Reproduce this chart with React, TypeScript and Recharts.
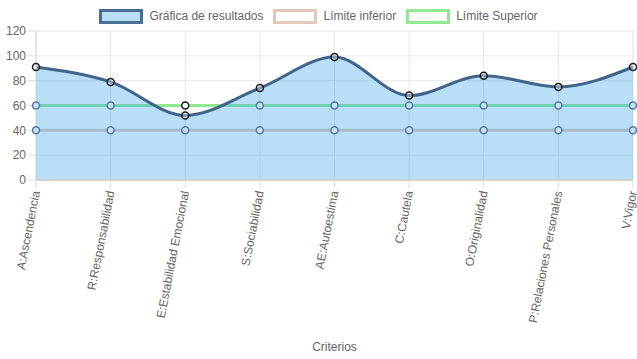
import React from 'react';
import { ComposedChart, Area, XAxis, YAxis, CartesianGrid } from 'recharts';

const categories = [
  'A:Ascendencia',
  'R:Responsabilidad',
  'E:Estabilidad Emocional',
  'S:Sociabilidad',
  'AE:Autoestima',
  'C:Cautela',
  'O:Originalidad',
  'P:Relaciones Personales',
  'V:Vigor',
];
const resultados = [91, 79, 52, 74, 99, 68, 84, 75, 91];
const limiteInferior = [40, 40, 40, 40, 40, 40, 40, 40, 40];
const limiteSuperior = [60, 60, 60, 60, 60, 60, 60, 60, 60];
const yTicks = [0, 20, 40, 60, 80, 100, 120];

const data = categories.map((c, i) => ({
  name: c,
  resultados: resultados[i],
  inferior: limiteInferior[i],
  superior: limiteSuperior[i],
}));

const FONT = '"Liberation Sans", Arial, Helvetica, sans-serif';

const XTick = (props: any) => {
  const { x, y, payload } = props;
  return (
    <g transform={`translate(${x},${y + 1})`}>
      <text
        transform="rotate(-79)"
        textAnchor="end"
        dy={4}
        fontSize={12}
        fill="#666"
        fontFamily={FONT}
      >
        {payload.value}
      </text>
    </g>
  );
};

const legendItems = [
  { label: 'Gráfica de resultados', fill: 'rgba(54,162,235,0.35)', border: '#4a6f94' },
  { label: 'Límite inferior', fill: '#ffffff', border: '#e3c9bb' },
  { label: 'Límite Superior', fill: '#ffffff', border: '#90e890' },
];

const makeLimitDot = (key: string) => (props: any) => {
  const { cx, cy, payload, index } = props;
  const covered = payload && payload.resultados >= payload[key];
  return (
    <circle
      key={`${key}-${index}`}
      cx={cx}
      cy={cy}
      r={3.5}
      fill={covered ? '#c4e1f8' : '#ffffff'}
      stroke={covered ? '#56799c' : '#1a1a1a'}
      strokeWidth={1.5}
    />
  );
};

export default function App() {
  return (
    <div style={{ position: 'absolute', left: 0, top: 0, width: 637, height: 359, background: '#fff' }}>
      <div
        style={{
          position: 'absolute',
          top: 9,
          left: 0,
          width: 637,
          display: 'flex',
          justifyContent: 'center',
          fontFamily: FONT,
          fontSize: 12,
          color: '#666',
          lineHeight: '13px',
        }}
      >
        {legendItems.map((it, i) => (
          <div key={i} style={{ display: 'flex', alignItems: 'center', marginLeft: i === 0 ? 0 : 10 }}>
            <div
              style={{
                width: 38,
                height: 9,
                background: it.fill,
                border: `3px solid ${it.border}`,
                marginRight: 6,
              }}
            />
            <span>{it.label}</span>
          </div>
        ))}
      </div>
      <ComposedChart
        width={637}
        height={359}
        data={data}
        margin={{ top: 31, right: 4, bottom: 0, left: 8 }}
        style={{ position: 'absolute', left: 0, top: 0 }}
      >
        <CartesianGrid stroke="#e6e6e6" strokeWidth={1} />
        <XAxis
          dataKey="name"
          scale="point"
          padding={{ left: 0, right: 0 }}
          interval={0}
          height={179}
          tickSize={8}
          tickLine={{ stroke: '#dddddd' }}
          axisLine={{ stroke: '#d0d0d0', strokeWidth: 2 }}
          tick={<XTick />}
          label={{
            value: 'Criterios',
            position: 'insideBottom',
            offset: 8,
            fill: '#666',
            fontSize: 12,
            fontFamily: FONT,
          }}
        />
        <YAxis
          domain={[0, 120]}
          ticks={yTicks}
          width={28}
          tickSize={8}
          tickMargin={2}
          tickLine={{ stroke: '#dddddd' }}
          axisLine={{ stroke: '#d8d8d8' }}
          tick={{ fill: '#666', fontSize: 12, fontFamily: FONT }}
        />
        <Area
          type="linear"
          dataKey="inferior"
          stroke="#e3c9bb"
          strokeWidth={3}
          fill="none"
          dot={makeLimitDot('inferior')}
          isAnimationActive={false}
        />
        <Area
          type="linear"
          dataKey="superior"
          stroke="#90e890"
          strokeWidth={3}
          fill="none"
          dot={makeLimitDot('superior')}
          isAnimationActive={false}
        />
        <Area
          type="monotone"
          dataKey="resultados"
          stroke="#41658a"
          strokeWidth={3}
          fill="rgb(54,162,235)"
          fillOpacity={0.35}
          dot={{ r: 3.5, fill: '#fff', stroke: '#1a1a1a', strokeWidth: 1.5 }}
          isAnimationActive={false}
        />
      </ComposedChart>
    </div>
  );
}
